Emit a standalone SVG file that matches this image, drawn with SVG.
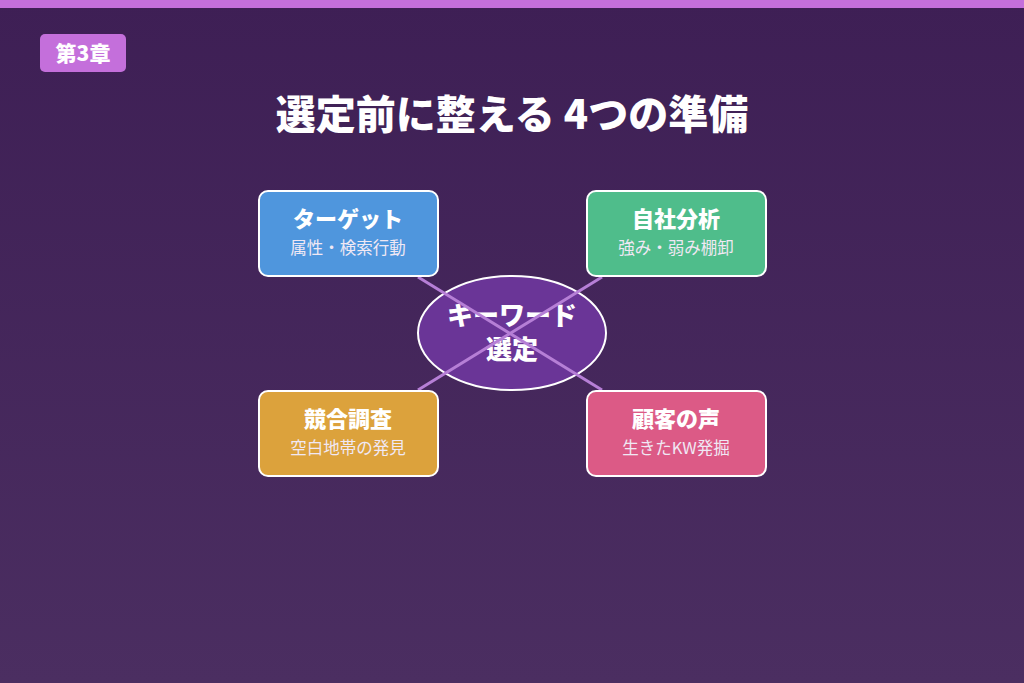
<svg xmlns="http://www.w3.org/2000/svg" width="1024" height="683" viewBox="0 0 1024 683">
<defs>
<linearGradient id="bg" x1="0" y1="0" x2="0" y2="1"><stop offset="0" stop-color="#3e1f55"/><stop offset="1" stop-color="#4b2e61"/></linearGradient>
<style>
text{font-family:"Noto Sans CJK JP","Noto Sans",sans-serif;fill:#fff;text-anchor:middle}
.box{stroke:#fff;stroke-width:2}
.t{font-size:22px;font-weight:900}
.s{font-size:16.5px;fill:#f0e8f4}
.c{stroke:#b67fd6;stroke-width:3}
</style>
</defs>
<rect width="1024" height="683" fill="url(#bg)"/>
<rect width="1024" height="8" fill="#c46fdb"/>
<g id="badge"><rect x="40" y="34" width="86" height="38" rx="5" fill="#c46fdb"/><text x="83" y="61" style="font-size:21px;font-weight:900">第3章</text></g>
<text id="title" x="512" y="129" style="font-size:40px;font-weight:900">選定前に整える 4つの準備</text>
<g id="center"><ellipse cx="512" cy="333" rx="94" ry="57" fill="#6a3597" stroke="#fff" stroke-width="2"/><text x="512" y="325" class="t" style="font-size:26px">キーワード</text><text x="512" y="359" class="t" style="font-size:26px">選定</text></g>
<g id="connectors"><line class="c" x1="418" y1="277" x2="602" y2="390"/><line class="c" x1="602" y1="277" x2="418" y2="390"/></g>
<g id="n1"><rect class="box" x="259" y="191" width="179" height="85" rx="9" fill="#4f96dd"/><text x="348" y="227" class="t">ターゲット</text><text x="348" y="254" class="s">属性・検索行動</text></g>
<g id="n2"><rect class="box" x="587" y="191" width="179" height="85" rx="9" fill="#4fbd8b"/><text x="676" y="227" class="t">自社分析</text><text x="676" y="254" class="s">強み・弱み棚卸</text></g>
<g id="n3"><rect class="box" x="259" y="391" width="179" height="85" rx="9" fill="#dca23c"/><text x="348" y="427" class="t">競合調査</text><text x="348" y="454" class="s">空白地帯の発見</text></g>
<g id="n4"><rect class="box" x="587" y="391" width="179" height="85" rx="9" fill="#dc5a86"/><text x="676" y="427" class="t">顧客の声</text><text x="676" y="454" class="s">生きたKW発掘</text></g>
</svg>
